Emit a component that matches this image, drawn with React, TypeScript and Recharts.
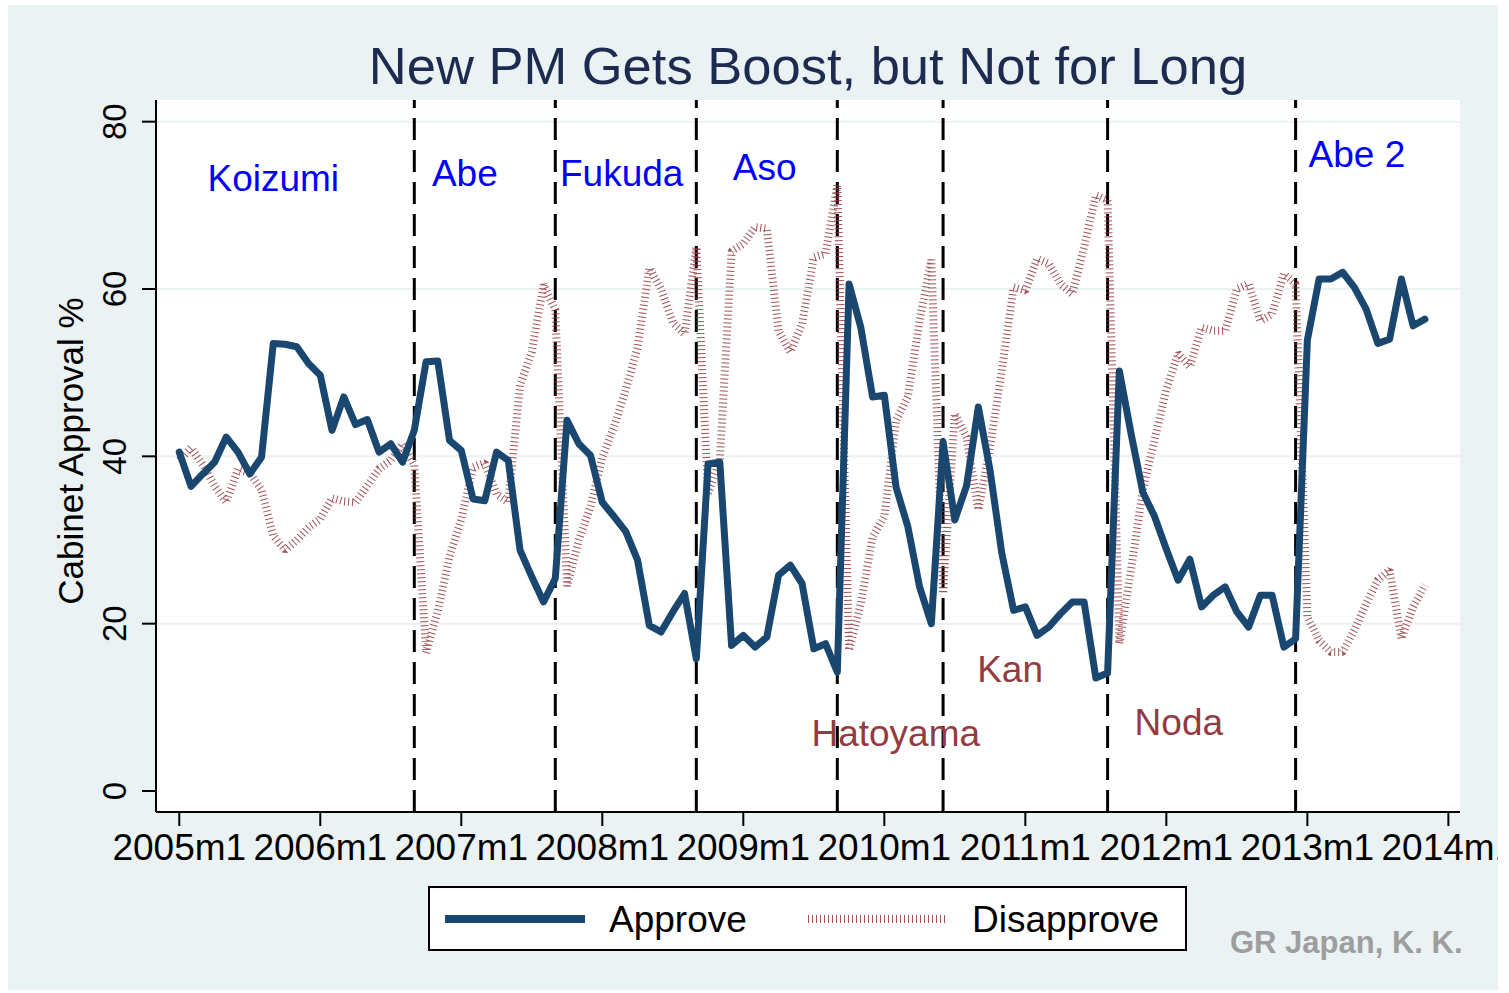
import { LineChart, Line, XAxis, YAxis, CartesianGrid, ReferenceLine, ReferenceDot } from "recharts";

// monthly cabinet approval, index 0 = 2005m1
const approve = [
  40.5, 36.4, 37.9, 39.3, 42.3, 40.5, 37.9, 39.9, 53.5, 53.4, 53.1, 51.1,
  49.7, 43.1, 47.1, 43.8, 44.4, 40.5, 41.5, 39.3, 43.1, 51.3, 51.4, 41.9,
  40.7, 34.9, 34.7, 40.5, 39.5, 28.8, 25.6, 22.6, 25.4, 44.3, 41.5, 40.1,
  34.5, 32.8, 31.0, 27.6, 19.8, 19.0, 21.4, 23.6, 15.8, 39.1, 39.3, 17.4,
  18.6, 17.2, 18.4, 25.8, 27.0, 24.8, 17.0, 17.6, 14.2, 60.6, 55.4, 47.1,
  47.3, 36.3, 31.6, 24.4, 20.0, 41.7, 32.4, 36.5, 45.9, 38.3, 28.4, 21.6,
  22.0, 18.6, 19.6, 21.2, 22.6, 22.6, 13.5, 14.1, 50.2, 42.7, 35.7, 32.8,
  28.9, 25.2, 27.7, 22.0, 23.4, 24.4, 21.4, 19.6, 23.4, 23.4, 17.2, 18.2,
  53.9, 61.2, 61.2, 62.0, 60.2, 57.6, 53.5, 54.0, 61.2, 55.6, 56.4,
];

const disapprove = [
  39.5, 41.0, 39.0, 36.5, 34.5, 38.5, 38.0, 36.0, 30.5, 28.8, 30.0, 31.5,
  32.5, 35.0, 34.6, 34.5, 36.5, 38.5, 39.5, 41.5, 39.0, 16.5, 21.5, 28.0,
  32.5, 38.7, 39.2, 35.5, 34.5, 48.5, 52.5, 60.5, 57.5, 24.5, 30.0, 34.0,
  39.9, 43.5, 48.0, 53.0, 62.5, 60.0, 56.0, 54.6, 65.0, 35.6, 39.5, 64.5,
  65.4, 67.4, 67.2, 55.0, 52.5, 55.8, 63.8, 64.2, 72.4, 16.8, 22.4, 30.4,
  32.8, 44.3, 47.1, 56.2, 63.5, 23.6, 45.1, 42.3, 33.6, 41.1, 50.3, 60.2,
  59.8, 63.6, 63.0, 60.6, 59.4, 65.0, 71.2, 70.6, 17.6, 26.5, 36.0, 42.0,
  48.0, 52.3, 50.7, 55.4, 55.0, 55.0, 60.0, 60.6, 56.2, 57.0, 61.8, 60.6,
  20.8, 18.0, 16.6, 16.6, 19.2, 22.4, 25.2, 26.4, 18.2, 22.0, 24.6,
];

const xTicks = [0, 12, 24, 36, 48, 60, 72, 84, 96, 108];
const xTickLabels = ["2005m1", "2006m1", "2007m1", "2008m1", "2009m1", "2010m1", "2011m1", "2012m1", "2013m1", "2014m1"];
const yTicks = [0, 20, 40, 60, 80];

// month index where each new PM starts
const pmStarts = [20, 32, 44, 56, 65, 79, 95];

const pmLabels = [
  { name: "Koizumi", m: 2.4, v: 71.7, party: "ldp" },
  { name: "Abe", m: 21.5, v: 72.3, party: "ldp" },
  { name: "Fukuda", m: 32.4, v: 72.3, party: "ldp" },
  { name: "Aso", m: 47.1, v: 73.0, party: "ldp" },
  { name: "Abe 2", m: 96.1, v: 74.6, party: "ldp" },
  { name: "Hatoyama", m: 53.8, v: 5.4, party: "dpj" },
  { name: "Kan", m: 67.9, v: 13.0, party: "dpj" },
  { name: "Noda", m: 81.3, v: 6.7, party: "dpj" },
];

const data = approve.map((a, i) => ({ m: i, approve: a, disapprove: disapprove[i] }));

const FONT = "'Liberation Sans', Arial, Helvetica, sans-serif";
const NAVY = "#1A476F";
const MAROON = "#90353B";
const BG = "#EAF2F3";

function XTick(props: any) {
  const { x, y, payload } = props;
  const idx = xTicks.indexOf(payload.value);
  return (
    <text x={x} y={y + 34} textAnchor="middle" fontFamily={FONT} fontSize={37} fill="#000">
      {xTickLabels[idx]}
    </text>
  );
}

function YTick(props: any) {
  const { x, y, payload } = props;
  return (
    <text transform={`translate(${x - 16}, ${y}) rotate(-90)`} textAnchor="middle"
      fontFamily={FONT} fontSize={33} fill="#000">
      {payload.value}
    </text>
  );
}

export default function App() {
  return (
    <div style={{ position: "absolute", left: 0, top: 0, width: 1509, height: 993, background: "#fff" }}>
      <div style={{ position: "absolute", left: 8, top: 5, width: 1490, height: 985, background: BG }} />
      <div style={{ position: "absolute", left: 0, top: 0 }}>
        <LineChart width={1498} height={993} data={data}
          margin={{ top: 100, right: 38, bottom: 121, left: 0 }}>
          <CartesianGrid vertical={false} fill="#fff" fillOpacity={1}
            stroke={BG} strokeWidth={2} horizontalValues={[20, 40, 60, 80]} />
          <XAxis dataKey="m" type="number" domain={[-1.98, 108.99]} allowDataOverflow
            ticks={xTicks} interval={0} height={60} tickSize={14} tickMargin={0}
            axisLine={{ stroke: "#000", strokeWidth: 2 }} tickLine={{ stroke: "#000", strokeWidth: 2 }}
            tick={<XTick />} />
          <YAxis type="number" domain={[-2.51, 82.59]} allowDataOverflow ticks={yTicks}
            interval={0} width={156} tickSize={14} tickMargin={0}
            axisLine={{ stroke: "#000", strokeWidth: 2 }} tickLine={{ stroke: "#000", strokeWidth: 2 }}
            tick={<YTick />} />
          {pmStarts.map((m) => (
            <ReferenceLine key={m} x={m} stroke="#000" strokeWidth={3} strokeDasharray="22 10" />
          ))}
          <Line type="linear" dataKey="disapprove" stroke={MAROON} strokeWidth={8}
            strokeDasharray="1 3" strokeOpacity={0.85} strokeLinejoin="bevel" dot={false} activeDot={false}
            isAnimationActive={false} />
          <Line type="linear" dataKey="approve" stroke={NAVY} strokeWidth={7}
            strokeLinejoin="round" strokeLinecap="round" dot={false} activeDot={false}
            isAnimationActive={false} />
          {pmLabels.map((p) => (
            <ReferenceDot key={p.name} x={p.m} y={p.v} r={0} ifOverflow="visible"
              shape={(s: any) => (
                <text x={s.cx} y={s.cy} fontFamily={FONT} fontSize={37}
                  fill={p.party === "ldp" ? "#0000FF" : "#943A40"}>
                  {p.name}
                </text>
              )} />
          ))}
        </LineChart>
      </div>
      <svg width={1509} height={993} style={{ position: "absolute", left: 0, top: 0, pointerEvents: "none" }}>
        <text x={808} y={84} textAnchor="middle" fontFamily={FONT} fontSize={52.5} fill="#1E2B50">
          New PM Gets Boost, but Not for Long
        </text>
        <text transform="translate(83, 451) rotate(-90)" textAnchor="middle" fontFamily={FONT}
          fontSize={35} fill="#000">
          Cabinet Approval %
        </text>
        <rect x={429} y={887} width={757} height={63} fill="#fff" stroke="#000" strokeWidth={2} />
        <line x1={445} y1={919} x2={585} y2={919} stroke={NAVY} strokeWidth={8} />
        <text x={609} y={932} fontFamily={FONT} fontSize={37} fill="#000">Approve</text>
        <line x1={808} y1={919} x2={945} y2={919} stroke={MAROON} strokeWidth={8}
          strokeDasharray="1 3" strokeOpacity={0.85} />
        <text x={972} y={932} fontFamily={FONT} fontSize={37} fill="#000">Disapprove</text>
        <text x={1230} y={953} fontFamily={FONT} fontSize={31} fontWeight="bold" fill="#9E9E9E">
          GR Japan, K. K.
        </text>
      </svg>
    </div>
  );
}
